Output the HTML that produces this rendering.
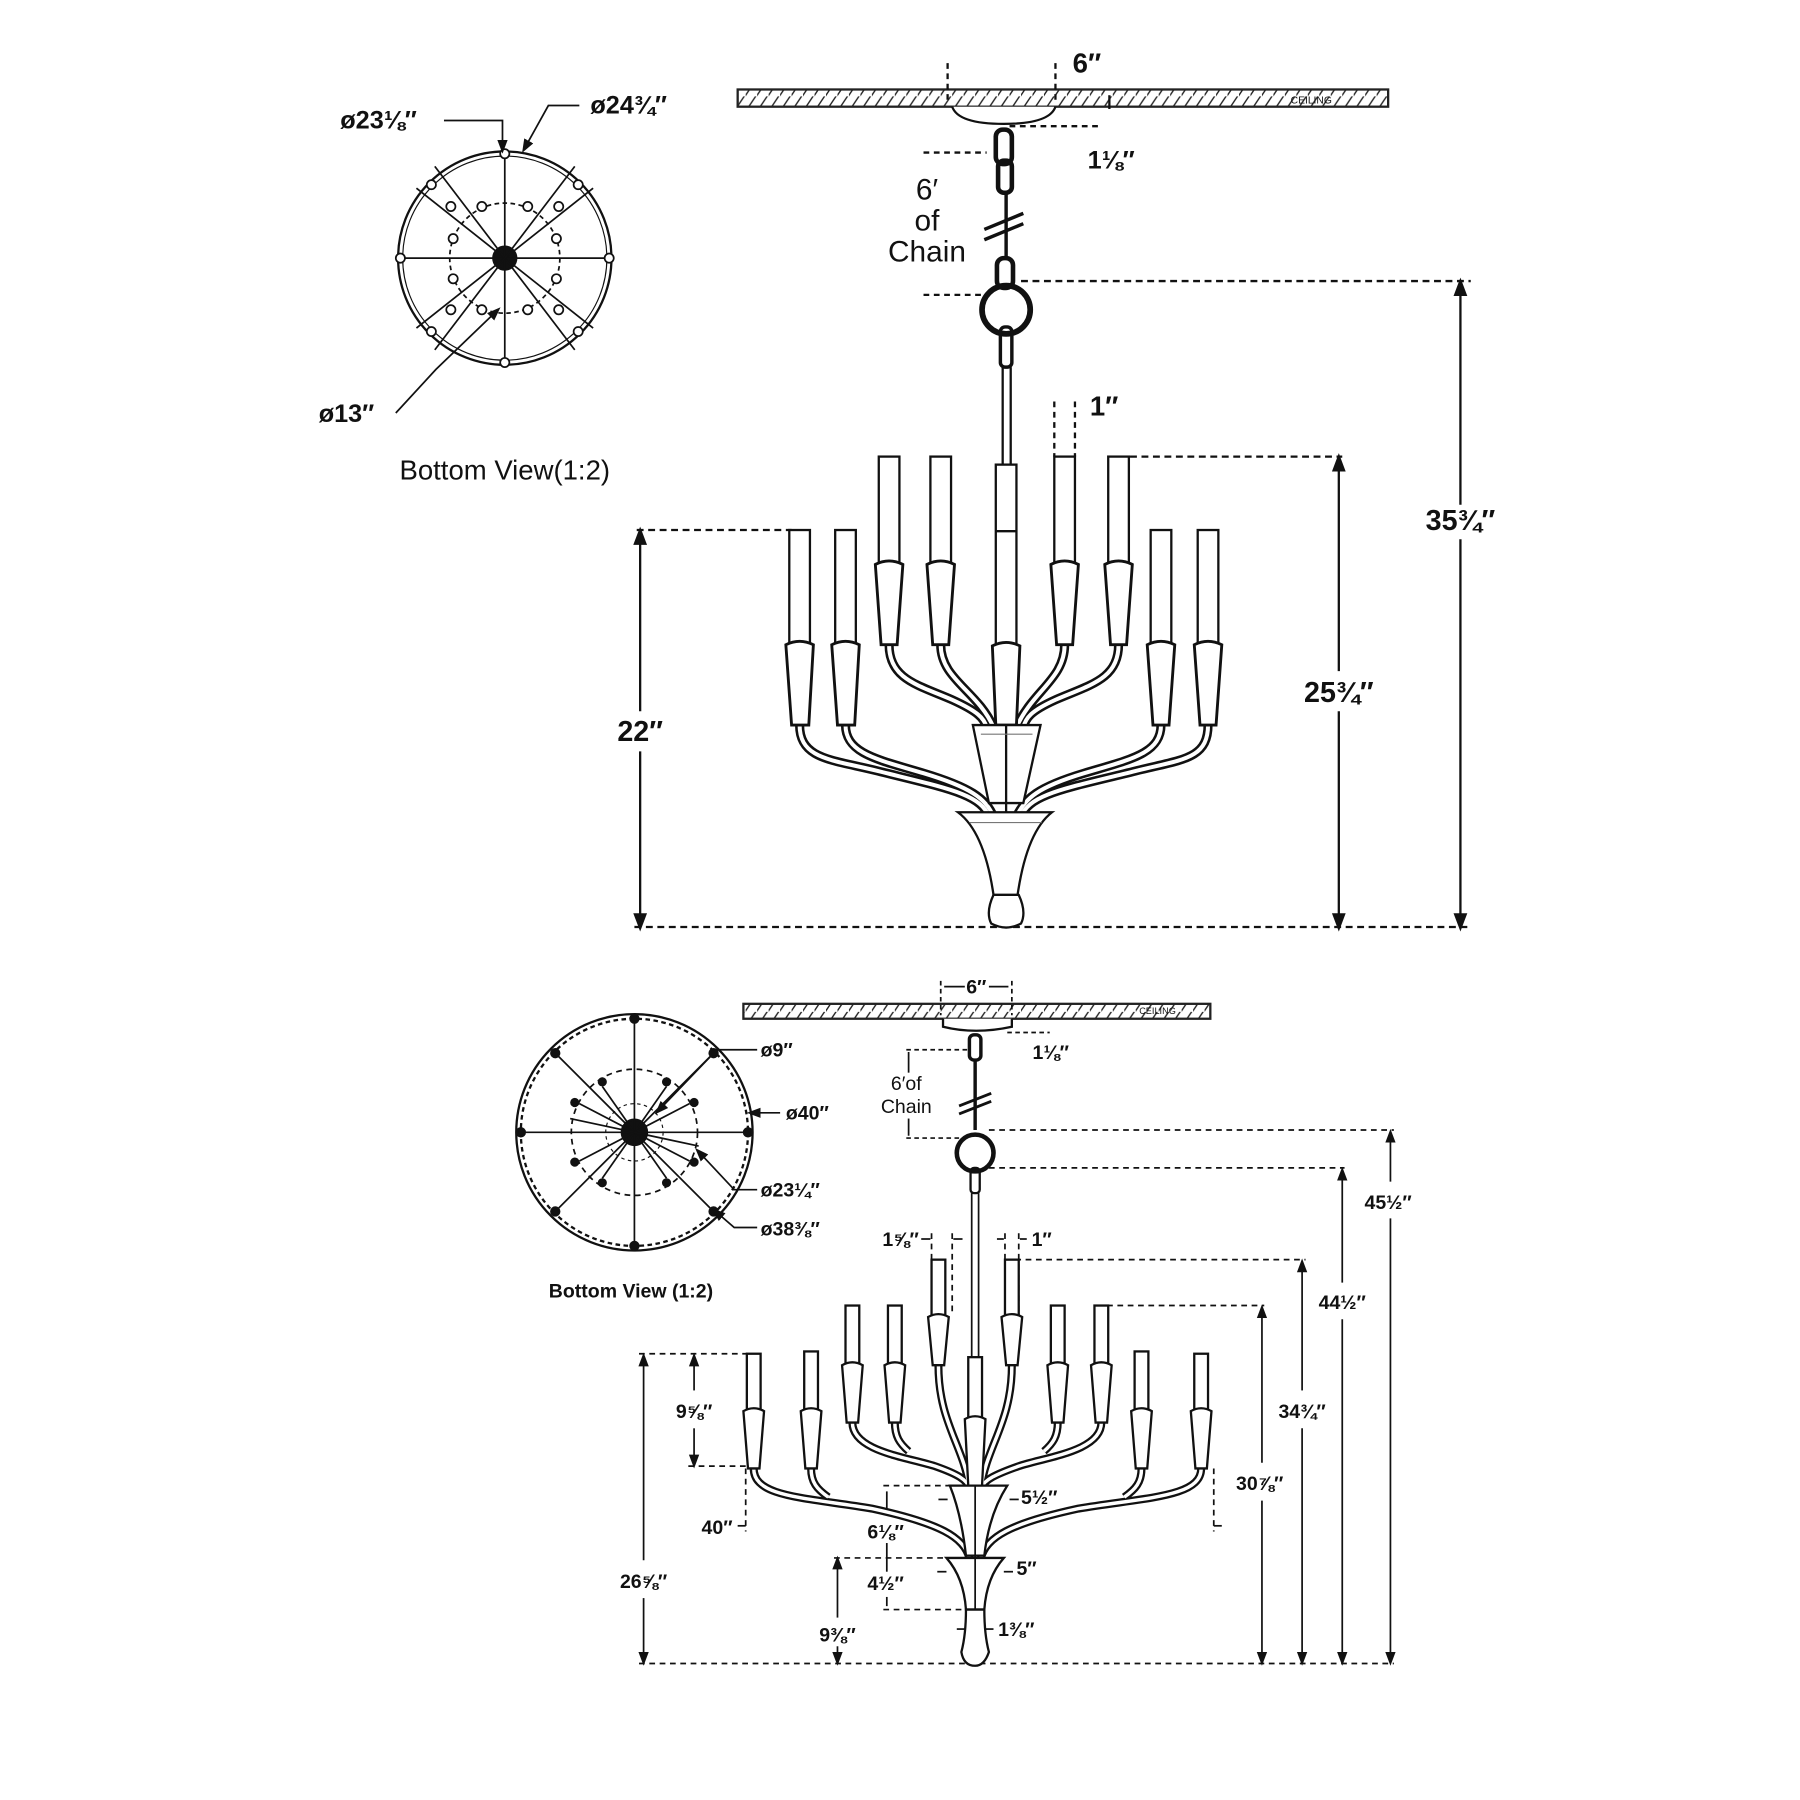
<!DOCTYPE html>
<html><head><meta charset="utf-8"><style>
html,body{margin:0;padding:0;background:#fff;}
svg{display:block;}
text{font-family:"Liberation Sans","DejaVu Sans",sans-serif;fill:#111;}
.b{font-weight:bold;}
</style></head><body>
<svg width="1800" height="1800" viewBox="0 0 1569 1569" xmlns="http://www.w3.org/2000/svg">
<defs>
<pattern id="h" width="10" height="14" patternUnits="userSpaceOnUse"><path d="M-2,16 L10,-2" stroke="#222" stroke-width="1.2"/></pattern>
<marker id="a" markerWidth="8" markerHeight="8" refX="4" refY="4" orient="auto-start-reverse"><path d="M0,1 L8,4 L0,7 Z" fill="#111"/></marker>
</defs>
<rect width="1569" height="1569" fill="#fff"/>
<g fill="none" stroke="#111" stroke-width="2">

<!-- ===== TOP DRAWING ===== -->
<rect x="643" y="78" width="567" height="15" fill="url(#h)" stroke="#222"/>
<path d="M830,93 Q835,108 875,108 Q915,108 920,93" fill="#fff"/>
<g stroke-dasharray="5,4"><line x1="826" y1="55" x2="826" y2="90"/><line x1="920" y1="55" x2="920" y2="90"/></g>
<line x1="967" y1="83" x2="967" y2="95"/><line x1="880" y1="110" x2="960" y2="110" stroke-dasharray="5,4"/>
<line x1="805" y1="133" x2="860" y2="133" stroke-dasharray="5,4"/><line x1="805" y1="257" x2="860" y2="257" stroke-dasharray="5,4"/>
<!-- chain -->
<rect x="868" y="113" width="14" height="30" rx="6" stroke-width="4"/>
<rect x="870" y="140" width="12" height="28" rx="5" stroke-width="4"/>
<line x1="877" y1="168" x2="877" y2="225" stroke-width="3"/>
<line x1="858" y1="200" x2="892" y2="186" stroke-width="3"/><line x1="858" y1="209" x2="892" y2="195" stroke-width="3"/>
<rect x="869" y="225" width="14" height="26" rx="6" stroke-width="4"/>
<circle cx="877" cy="270" r="21" stroke-width="5"/>
<rect x="872" y="285" width="10" height="35" rx="4" stroke-width="3"/>
<line x1="874" y1="320" x2="874" y2="405"/><line x1="881" y1="320" x2="881" y2="405"/>
<!-- dims right -->
<line x1="890" y1="245" x2="1282" y2="245" stroke-dasharray="6,4"/>
<line x1="1273" y1="250" x2="1273" y2="440" marker-start="url(#a)"/><line x1="1273" y1="470" x2="1273" y2="804" marker-end="url(#a)"/>
<line x1="985" y1="398" x2="1170" y2="398" stroke-dasharray="6,4"/>
<line x1="1167" y1="403" x2="1167" y2="585" marker-start="url(#a)"/><line x1="1167" y1="620" x2="1167" y2="804" marker-end="url(#a)"/>
<line x1="555" y1="462" x2="690" y2="462" stroke-dasharray="6,4"/>
<line x1="558" y1="467" x2="558" y2="620" marker-start="url(#a)"/><line x1="558" y1="655" x2="558" y2="804" marker-end="url(#a)"/>
<line x1="553" y1="808" x2="1282" y2="808" stroke-dasharray="6,4"/>
<g stroke-dasharray="5,4"><line x1="919" y1="350" x2="919" y2="398"/><line x1="937" y1="350" x2="937" y2="398"/></g>
<!-- candles -->
<g fill="#fff">
<rect x="688" y="462" width="18" height="100"/><rect x="728" y="462" width="18" height="100"/>
<rect x="1003" y="462" width="18" height="100"/><rect x="1044" y="462" width="18" height="100"/>
<rect x="766" y="398" width="18" height="95"/><rect x="811" y="398" width="18" height="95"/>
<rect x="919" y="398" width="18" height="95"/><rect x="966" y="398" width="18" height="95"/>
<rect x="868" y="405" width="18" height="158"/>
</g>
<line x1="868" y1="463" x2="886" y2="463"/>
<!-- arms (double line) -->
<g stroke-width="8" stroke="#111">
<path id="t1" d="M697,632 C697,662 725,662 765,672 C825,687 855,692 862,712"/>
<path id="t2" d="M737,632 C737,657 765,662 805,674 C845,686 860,696 866,712"/>
<path id="t3" d="M775,562 C775,592 800,597 830,610 C852,620 858,626 860,634"/>
<path id="t4" d="M820,562 C820,592 852,602 866,634"/>
<path id="t5" d="M1053,632 C1053,662 1030,662 990,672 C930,687 897,692 890,712"/>
<path id="t6" d="M1012,632 C1012,657 985,662 945,674 C905,686 893,696 886,712"/>
<path id="t7" d="M975,562 C975,592 950,597 920,610 C898,620 894,626 892,634"/>
<path id="t8" d="M928,562 C928,592 900,602 886,634"/>
</g>
<g stroke-width="3.5" stroke="#fff">
<use href="#t1"/><use href="#t2"/><use href="#t3"/><use href="#t4"/><use href="#t5"/><use href="#t6"/><use href="#t7"/><use href="#t8"/>
</g>
<!-- sleeves -->
<g fill="#fff" stroke-width="2.5">
<path d="M685,562 Q697,556 709,562 L705,632 L690,632 Z"/><path d="M725,562 Q737,556 749,562 L745,632 L730,632 Z"/>
<path d="M1000,562 Q1012,556 1024,562 L1019,632 L1005,632 Z"/><path d="M1041,562 Q1053,556 1065,562 L1060,632 L1046,632 Z"/>
<path d="M763,492 Q775,486 787,492 L782,562 L768,562 Z"/><path d="M808,492 Q820,486 832,492 L827,562 L813,562 Z"/>
<path d="M916,492 Q928,486 940,492 L935,562 L921,562 Z"/><path d="M963,492 Q975,486 987,492 L982,562 L968,562 Z"/>
<path d="M865,563 Q877,557 889,563 L886,632 L868,632 Z"/>
</g>
<!-- cups -->
<path d="M848,632 L907,632 L892,700 L862,700 Z" fill="#fff"/>
<line x1="877" y1="632" x2="877" y2="780"/>
<path d="M835,708 L917,708 Q895,725 887,780 L866,780 Q858,725 835,708 Z" fill="#fff"/>
<path d="M866,780 L888,780 Q895,795 890,805 Q877,812 864,805 Q859,795 866,780 Z" fill="#fff"/>
<g stroke-width="1" stroke="#777"><line x1="855" y1="640" x2="900" y2="640"/><line x1="845" y1="717" x2="908" y2="717"/></g>

<!-- top bottom-view -->
<circle cx="440" cy="225" r="93"/><circle cx="440" cy="225" r="89" stroke-width="1"/>
<circle cx="440" cy="225" r="48" stroke-dasharray="4,3" stroke-width="1.5"/>
<circle cx="440" cy="225" r="10" fill="#111"/>
<g stroke-width="1.5">
<line x1="440" y1="133" x2="440" y2="317"/><line x1="348" y1="225" x2="532" y2="225"/>
<line x1="363" y1="164" x2="517" y2="286"/><line x1="363" y1="286" x2="517" y2="164"/>
<line x1="379" y1="145" x2="501" y2="305"/><line x1="379" y1="305" x2="501" y2="145"/>
</g>
<g fill="#fff" stroke-width="1.5">
<circle cx="440" cy="134" r="4"/><circle cx="440" cy="316" r="4"/><circle cx="349" cy="225" r="4"/><circle cx="531" cy="225" r="4"/>
<circle cx="376" cy="161" r="4"/><circle cx="504" cy="161" r="4"/><circle cx="376" cy="289" r="4"/><circle cx="504" cy="289" r="4"/>
<circle cx="420" cy="180" r="4"/><circle cx="460" cy="180" r="4"/><circle cx="395" cy="208" r="4"/><circle cx="485" cy="208" r="4"/>
<circle cx="395" cy="243" r="4"/><circle cx="485" cy="243" r="4"/><circle cx="420" cy="270" r="4"/><circle cx="460" cy="270" r="4"/>
<circle cx="487" cy="180" r="4"/><circle cx="393" cy="270" r="4"/><circle cx="393" cy="180" r="4"/><circle cx="487" cy="270" r="4"/>
</g>
<polyline points="387,105 438,105 438,128" stroke-width="1.5" marker-end="url(#a)"/>
<polyline points="505,92 478,92 458,128" stroke-width="1.5" marker-end="url(#a)"/>
<polyline points="345,360 380,322 432,272" stroke-width="1.5" marker-end="url(#a)"/>

<!-- ===== BOTTOM DRAWING ===== -->
<rect x="648" y="875" width="407" height="13" fill="url(#h)" stroke="#222"/>
<path d="M822,888 L822,895 Q850,902 882,895 L882,888" fill="#fff"/>
<g stroke-dasharray="4,3" stroke-width="1.5"><line x1="820" y1="855" x2="820" y2="885"/><line x1="882" y1="855" x2="882" y2="885"/>
<line x1="790" y1="915" x2="845" y2="915"/><line x1="790" y1="992" x2="845" y2="992"/><line x1="878" y1="900" x2="915" y2="900"/></g>
<line x1="823" y1="860" x2="841" y2="860" stroke-width="1.5"/><line x1="862" y1="860" x2="879" y2="860" stroke-width="1.5"/>
<line x1="792" y1="917" x2="792" y2="935" stroke-width="1.5"/><line x1="792" y1="975" x2="792" y2="990" stroke-width="1.5"/>
<rect x="845" y="902" width="10" height="22" rx="4" stroke-width="3"/>
<line x1="850" y1="924" x2="850" y2="985" stroke-width="3"/>
<line x1="836" y1="964" x2="864" y2="953" stroke-width="2.5"/><line x1="836" y1="971" x2="864" y2="960" stroke-width="2.5"/>
<circle cx="850" cy="1005" r="16" stroke-width="4"/>
<rect x="846" y="1018" width="8" height="22" rx="3" stroke-width="2"/>
<line x1="847" y1="1040" x2="847" y2="1185" stroke-width="1.5"/><line x1="853" y1="1040" x2="853" y2="1185" stroke-width="1.5"/>
<!-- dims -->
<g stroke-dasharray="5,4" stroke-width="1.5">
<line x1="862" y1="985" x2="1215" y2="985"/><line x1="862" y1="1018" x2="1172" y2="1018"/>
<line x1="885" y1="1098" x2="1138" y2="1098"/><line x1="965" y1="1138" x2="1102" y2="1138"/>
<line x1="557" y1="1450" x2="1215" y2="1450"/><line x1="557" y1="1180" x2="652" y2="1180"/>
<line x1="600" y1="1278" x2="652" y2="1278"/>
<line x1="650" y1="1280" x2="650" y2="1335"/><line x1="1058" y1="1280" x2="1058" y2="1335"/>
<line x1="812" y1="1075" x2="812" y2="1145"/><line x1="830" y1="1075" x2="830" y2="1145"/>
<line x1="876" y1="1075" x2="876" y2="1145"/><line x1="888" y1="1075" x2="888" y2="1145"/>
<line x1="770" y1="1295" x2="828" y2="1295"/><line x1="727" y1="1358" x2="828" y2="1358"/><line x1="770" y1="1403" x2="845" y2="1403"/>
</g>
<g stroke-width="1.5">
<line x1="1212" y1="990" x2="1212" y2="1030" marker-start="url(#a)"/><line x1="1212" y1="1062" x2="1212" y2="1446" marker-end="url(#a)"/>
<line x1="1170" y1="1023" x2="1170" y2="1118" marker-start="url(#a)"/><line x1="1170" y1="1150" x2="1170" y2="1446" marker-end="url(#a)"/>
<line x1="1135" y1="1103" x2="1135" y2="1212" marker-start="url(#a)"/><line x1="1135" y1="1245" x2="1135" y2="1446" marker-end="url(#a)"/>
<line x1="1100" y1="1143" x2="1100" y2="1275" marker-start="url(#a)"/><line x1="1100" y1="1308" x2="1100" y2="1446" marker-end="url(#a)"/>
<line x1="561" y1="1185" x2="561" y2="1360" marker-start="url(#a)"/><line x1="561" y1="1393" x2="561" y2="1446" marker-end="url(#a)"/>
<line x1="605" y1="1185" x2="605" y2="1212" marker-start="url(#a)"/><line x1="605" y1="1245" x2="605" y2="1274" marker-end="url(#a)"/>
<line x1="730" y1="1362" x2="730" y2="1410" marker-start="url(#a)"/><line x1="730" y1="1435" x2="730" y2="1446" marker-end="url(#a)"/>
<line x1="773" y1="1300" x2="773" y2="1320"/><line x1="773" y1="1345" x2="773" y2="1370"/><line x1="773" y1="1392" x2="773" y2="1400"/>
</g>
<!-- bottom candles -->
<g fill="#fff" stroke-width="2">
<rect x="651" y="1180" width="12" height="50"/><rect x="701" y="1178" width="12" height="52"/>
<rect x="737" y="1138" width="12" height="52"/><rect x="774" y="1138" width="12" height="52"/>
<rect x="812" y="1098" width="12" height="52"/><rect x="876" y="1098" width="12" height="52"/>
<rect x="916" y="1138" width="12" height="52"/><rect x="954" y="1138" width="12" height="52"/>
<rect x="989" y="1178" width="12" height="52"/><rect x="1041" y="1180" width="12" height="50"/>
<rect x="844" y="1183" width="12" height="55"/>
</g>
<g stroke-width="7" stroke="#111">
<path id="b1" d="M657,1280 C657,1305 700,1305 760,1315 C820,1328 840,1340 845,1358"/>
<path id="b2" d="M1047,1280 C1047,1305 1000,1305 940,1315 C880,1328 860,1340 855,1358"/>
<path id="b3" d="M743,1240 C743,1265 790,1270 815,1278 C835,1285 843,1290 845,1297"/>
<path id="b4" d="M960,1240 C960,1265 912,1270 888,1278 C868,1285 858,1290 855,1297"/>
<path id="b5" d="M818,1190 C818,1240 840,1260 845,1297"/>
<path id="b6" d="M882,1190 C882,1240 860,1260 855,1297"/>
<path id="b7" d="M707,1280 C707,1292 712,1298 722,1305"/>
<path id="b8" d="M780,1240 C780,1252 784,1258 792,1265"/>
<path id="b9" d="M922,1240 C922,1252 918,1258 910,1265"/>
<path id="b10" d="M995,1280 C995,1292 990,1298 980,1305"/>
</g>
<g stroke-width="3" stroke="#fff">
<use href="#b1"/><use href="#b2"/><use href="#b3"/><use href="#b4"/><use href="#b5"/><use href="#b6"/><use href="#b7"/><use href="#b8"/><use href="#b9"/><use href="#b10"/>
</g>
<g fill="#fff" stroke-width="2">
<path d="M648,1230 Q657,1225 666,1230 L662,1280 L652,1280 Z"/><path d="M698,1230 Q707,1225 716,1230 L712,1280 L702,1280 Z"/>
<path d="M986,1230 Q995,1225 1004,1230 L1000,1280 L990,1280 Z"/><path d="M1038,1230 Q1047,1225 1056,1230 L1052,1280 L1042,1280 Z"/>
<path d="M734,1190 Q743,1185 752,1190 L748,1240 L738,1240 Z"/><path d="M771,1190 Q780,1185 789,1190 L785,1240 L775,1240 Z"/>
<path d="M913,1190 Q922,1185 931,1190 L927,1240 L917,1240 Z"/><path d="M951,1190 Q960,1185 969,1190 L965,1240 L955,1240 Z"/>
<path d="M809,1148 Q818,1143 827,1148 L823,1190 L813,1190 Z"/><path d="M873,1148 Q882,1143 891,1148 L887,1190 L877,1190 Z"/>
<path d="M841,1237 Q850,1232 859,1237 L856,1295 L844,1295 Z"/>
</g>
<path d="M828,1295 L878,1295 Q862,1320 858,1356 L842,1356 Q838,1320 828,1295 Z" fill="#fff"/>
<path d="M825,1358 L875,1358 Q860,1375 858,1403 L842,1403 Q840,1375 825,1358 Z" fill="#fff"/>
<path d="M842,1403 L858,1403 Q858,1425 862,1440 Q858,1452 850,1452 Q840,1452 838,1440 Q842,1425 842,1403 Z" fill="#fff"/>
<line x1="850" y1="1295" x2="850" y2="1403" stroke-width="1.5"/>
<g stroke-width="1.5"><line x1="818" y1="1307" x2="826" y2="1307"/><line x1="880" y1="1307" x2="888" y2="1307"/>
<line x1="817" y1="1370" x2="825" y2="1370"/><line x1="875" y1="1370" x2="883" y2="1370"/>
<line x1="834" y1="1420" x2="842" y2="1420"/><line x1="858" y1="1420" x2="866" y2="1420"/>
<line x1="803" y1="1080" x2="811" y2="1080"/><line x1="831" y1="1080" x2="839" y2="1080"/>
<line x1="869" y1="1080" x2="875" y2="1080"/><line x1="889" y1="1080" x2="895" y2="1080"/>
<line x1="643" y1="1330" x2="650" y2="1330"/><line x1="1058" y1="1330" x2="1065" y2="1330"/></g>

<!-- bottom bottom-view -->
<circle cx="553" cy="987" r="103" stroke-width="2"/><circle cx="553" cy="987" r="99" stroke-dasharray="4,3" stroke-width="2"/>
<circle cx="553" cy="987" r="55" stroke-dasharray="5,4" stroke-width="1.5"/>
<circle cx="553" cy="987" r="25" stroke-dasharray="3,3" stroke-width="1"/>
<circle cx="553" cy="987" r="11" fill="#111"/>
<g stroke-width="1.5">
<line x1="553" y1="887" x2="553" y2="1087"/><line x1="453" y1="987" x2="653" y2="987"/>
<line x1="484" y1="918" x2="622" y2="1056"/><line x1="484" y1="1056" x2="622" y2="918"/>
<line x1="525" y1="947" x2="581" y2="1027"/><line x1="525" y1="1027" x2="581" y2="947"/>
<line x1="505" y1="962" x2="601" y2="1012"/><line x1="505" y1="1012" x2="601" y2="962"/>
<line x1="497" y1="975" x2="609" y2="999"/>
</g>
<g fill="#111">
<circle cx="553" cy="888" r="3.5"/><circle cx="553" cy="1086" r="3.5"/><circle cx="454" cy="987" r="3.5"/><circle cx="652" cy="987" r="3.5"/>
<circle cx="484" cy="918" r="3.5"/><circle cx="622" cy="918" r="3.5"/><circle cx="484" cy="1056" r="3.5"/><circle cx="622" cy="1056" r="3.5"/>
<circle cx="525" cy="943" r="3"/><circle cx="581" cy="943" r="3"/><circle cx="525" cy="1031" r="3"/><circle cx="581" cy="1031" r="3"/>
<circle cx="501" cy="961" r="3"/><circle cx="605" cy="961" r="3"/><circle cx="501" cy="1013" r="3"/><circle cx="605" cy="1013" r="3"/>
</g>
<polyline points="660,915 625,915 575,967" stroke-width="1.5" marker-end="url(#a)"/>
<line x1="680" y1="970" x2="657" y2="970" stroke-width="1.5" marker-end="url(#a)"/>
<polyline points="660,1037 640,1037 610,1005" stroke-width="1.5" marker-end="url(#a)"/>
<polyline points="660,1070 640,1070 625,1057" stroke-width="1.5" marker-end="url(#a)"/>
</g>

<!-- TEXT -->
<g class="b">
<text x="935" y="63" font-size="24">6″</text>
<text x="948" y="147" font-size="22">1⅛″</text>
<text x="808" y="174" font-size="26" text-anchor="middle" font-weight="normal">6′</text>
<text x="808" y="201" font-size="26" text-anchor="middle" font-weight="normal">of</text>
<text x="808" y="228" font-size="26" text-anchor="middle" font-weight="normal">Chain</text>
<text x="950" y="362" font-size="24">1″</text>
<text x="1273" y="462" font-size="25" text-anchor="middle">35¾″</text>
<text x="1167" y="612" font-size="25" text-anchor="middle">25¾″</text>
<text x="558" y="646" font-size="25" text-anchor="middle">22″</text>
<text x="330" y="112" font-size="22" text-anchor="middle">ø23⅛″</text>
<text x="548" y="99" font-size="22" text-anchor="middle">ø24¾″</text>
<text x="302" y="368" font-size="22" text-anchor="middle">ø13″</text>
</g>
<text x="440" y="418" font-size="24" text-anchor="middle">Bottom View(1:2)</text>
<text x="1125" y="90" font-size="9">CEILING</text>
<text x="993" y="884" font-size="8">CEILING</text>
<g class="b" font-size="17">
<text x="851" y="866" text-anchor="middle">6″</text>
<text x="900" y="923">1⅛″</text>
<text x="790" y="950" text-anchor="middle" font-weight="normal">6′of</text>
<text x="790" y="970" text-anchor="middle" font-weight="normal">Chain</text>
<text x="663" y="921">ø9″</text>
<text x="685" y="976">ø40″</text>
<text x="663" y="1043">ø23¼″</text>
<text x="663" y="1077">ø38⅜″</text>
<text x="550" y="1131" text-anchor="middle">Bottom View (1:2)</text>
<text x="1210" y="1054" text-anchor="middle">45½″</text>
<text x="1170" y="1141" text-anchor="middle">44½″</text>
<text x="1135" y="1236" text-anchor="middle">34¾″</text>
<text x="1098" y="1299" text-anchor="middle">30⅞″</text>
<text x="561" y="1384" text-anchor="middle">26⅝″</text>
<text x="605" y="1236" text-anchor="middle">9⅝″</text>
<text x="625" y="1337" text-anchor="middle">40″</text>
<text x="785" y="1086" text-anchor="middle">1⅝″</text>
<text x="908" y="1086" text-anchor="middle">1″</text>
<text x="890" y="1311">5½″</text>
<text x="772" y="1341" text-anchor="middle">6⅛″</text>
<text x="886" y="1373">5″</text>
<text x="772" y="1386" text-anchor="middle">4½″</text>
<text x="730" y="1431" text-anchor="middle">9⅜″</text>
<text x="870" y="1426">1⅜″</text>
</g>
</svg>
</body></html>
